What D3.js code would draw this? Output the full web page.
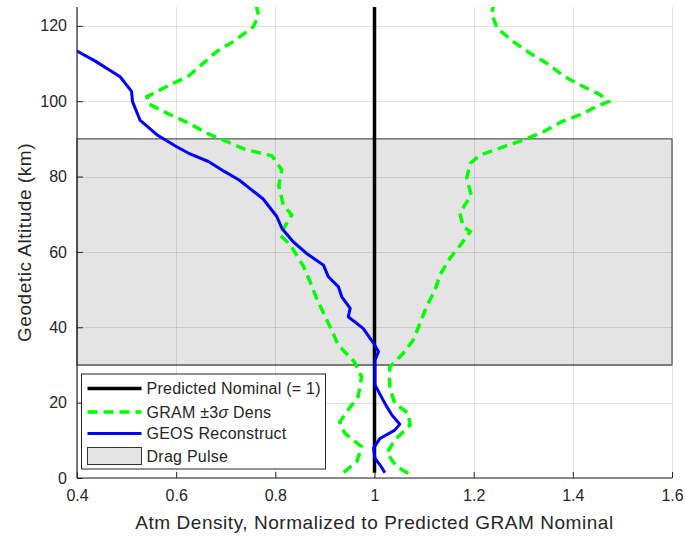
<!DOCTYPE html>
<html>
<head>
<meta charset="utf-8">
<script src="https://cdn.jsdelivr.net/npm/d3@7"></script>
<style>
  body { margin: 0; background: #fff; }
  svg text { font-family: "Liberation Sans", Arial, Helvetica, sans-serif; fill: #262626; }
</style>
</head>
<body>
<div class="chart"></div>
<script>
// values
const xTicks = [0.4, 0.6, 0.8, 1, 1.2, 1.4, 1.6];
const yTicks = [0, 20, 40, 60, 80, 100, 120];
const dragPulse = [30, 90];          // km
const nominalAlt = [1.4, 125];
const nominalRho = [1, 1];

const geosAlt = [1.4, 3.5, 5.2, 7.9, 10.5, 12.7, 14.3, 16.7, 19.8, 24.7, 29.5, 31.3, 33.5, 35.8, 39.7,
  42.8, 45.0, 48.1, 50.8, 53.4, 56.5, 59.6, 62.7, 66.3, 69.4, 74.1, 79.1, 81.3, 84.0, 86.0, 87.9,
  91.1, 95.0, 99.9, 102.6, 106.5, 110.7, 113.3];
const geosRho = [1.021, 1.011, 1.001, 0.998, 1.011, 1.041, 1.051, 1.035, 1.021, 1.001, 1.001, 1.001, 1.008, 0.998, 0.977,
  0.947, 0.951, 0.934, 0.927, 0.907, 0.897, 0.863, 0.836, 0.813, 0.803, 0.775, 0.727, 0.698, 0.665, 0.628, 0.601,
  0.561, 0.527, 0.512, 0.510, 0.487, 0.436, 0.400];

const gramLoAlt = [1.5, 4.3, 8.3, 11.9, 14.9, 18.1, 21.6, 26.9, 30.9, 35.3, 41.9, 47.7, 52.1, 56.1, 61.9,
  64.5, 69.8, 72.5, 77.5, 81.8, 85.5, 87.2, 89.3, 91.5, 94.2, 96.4, 99.3, 101.2, 103.9, 106.7, 110.1,
  113.2, 115.8, 119.8, 122.9, 125.1];
const gramLo = [0.938, 0.964, 0.974, 0.940, 0.930, 0.947, 0.967, 0.974, 0.959, 0.927, 0.904, 0.883, 0.870, 0.857, 0.830,
  0.809, 0.833, 0.816, 0.807, 0.813, 0.793, 0.739, 0.702, 0.662, 0.625, 0.588, 0.544, 0.541, 0.581, 0.625, 0.655,
  0.682, 0.715, 0.756, 0.766, 0.762];

const gramHiAlt = [1.2, 3.0, 6.6, 10.1, 14.1, 17.2, 19.8, 23.8, 27.3, 29.5, 33.1, 36.6, 41.1, 45.5, 49.9,
  53.9, 58.3, 62.3, 65.4, 66.7, 70.3, 75.1, 79.6, 83.5, 85.7, 87.9, 89.7, 91.9, 94.6, 96.4, 98.6,
  99.9, 101.7, 104.1, 106.5, 110.1, 112.7, 115.8, 119.4, 123.4, 125.1];
const gramHi = [1.068, 1.045, 1.025, 1.041, 1.072, 1.068, 1.041, 1.031, 1.030, 1.031, 1.058, 1.078, 1.092, 1.105, 1.122,
  1.132, 1.152, 1.176, 1.193, 1.179, 1.172, 1.195, 1.186, 1.193, 1.213, 1.260, 1.300, 1.341, 1.378, 1.415, 1.448,
  1.472, 1.455, 1.418, 1.384, 1.347, 1.314, 1.280, 1.247, 1.236, 1.240];

const W = 686, H = 537;
const margin = { top: 7, right: 14, bottom: 59, left: 77 };

const svg = d3.select(".chart").append("svg")
  .attr("width", W).attr("height", H);

const x = d3.scaleLinear().domain([0.4, 1.6]).range([margin.left, W - margin.right]);
const y = d3.scaleLinear().domain([0, 125]).range([H - margin.bottom, margin.top]);

svg.append("clipPath").attr("id", "plotclip")
  .append("rect")
  .attr("x", x(0.4)).attr("y", y(125))
  .attr("width", x(1.6) - x(0.4)).attr("height", y(0) - y(125));

// drag pulse band
svg.append("rect")
  .attr("x", x(0.4)).attr("y", y(dragPulse[1]))
  .attr("width", x(1.6) - x(0.4)).attr("height", y(dragPulse[0]) - y(dragPulse[1]))
  .attr("fill", "#e4e4e4")
  .attr("stroke", "#333").attr("stroke-width", 1);
svg.append("line")
  .attr("x1", x(0.4)).attr("x2", x(1.6))
  .attr("y1", y(dragPulse[0])).attr("y2", y(dragPulse[0]))
  .attr("stroke", "#7a7a7a").attr("stroke-width", 2);

// grid
const grid = svg.append("g").attr("stroke", "#262626").attr("stroke-opacity", 0.13).attr("stroke-width", 1);
xTicks.forEach(t => grid.append("line")
  .attr("x1", Math.round(x(t)) + 0.5).attr("x2", Math.round(x(t)) + 0.5)
  .attr("y1", y(125)).attr("y2", y(0)));
yTicks.forEach(t => grid.append("line")
  .attr("x1", x(0.4)).attr("x2", x(1.6))
  .attr("y1", Math.round(y(t)) + 0.5).attr("y2", Math.round(y(t)) + 0.5));

const line = d3.line().x(d => x(d[1])).y(d => y(d[0]));
const plot = svg.append("g").attr("clip-path", "url(#plotclip)");

const gramStyle = p => p.attr("fill", "none").attr("stroke", "#00ff00")
  .attr("stroke-width", 3.5).attr("stroke-dasharray", "10,6");

plot.append("path").datum(d3.zip(nominalAlt, nominalRho))
  .attr("d", line).attr("fill", "none").attr("stroke", "#000").attr("stroke-width", 3.5);
plot.append("path").datum(d3.zip(gramLoAlt, gramLo)).attr("d", line).call(gramStyle);
plot.append("path").datum(d3.zip(gramHiAlt, gramHi)).attr("d", line).call(gramStyle);
plot.append("path").datum(d3.zip(geosAlt, geosRho))
  .attr("d", line).attr("fill", "none").attr("stroke", "#0000ff").attr("stroke-width", 3)
  .attr("stroke-linejoin", "round");

// axes (ticks inside, matlab style)
const xAxis = svg.append("g")
  .attr("transform", `translate(0,${y(0)})`)
  .call(d3.axisBottom(x).tickValues(xTicks).tickFormat(d3.format("~g")).tickSizeInner(-6).tickSizeOuter(0).tickPadding(12));
const yAxis = svg.append("g")
  .attr("transform", `translate(${x(0.4)},0)`)
  .call(d3.axisLeft(y).tickValues(yTicks).tickSizeInner(-6).tickSizeOuter(0).tickPadding(10));
[xAxis, yAxis].forEach(a => {
  a.select(".domain").attr("stroke", "#262626").attr("stroke-width", 1.2);
  a.selectAll(".tick line").attr("stroke", "#262626");
  a.selectAll(".tick text").attr("font-size", 16).attr("fill", "#262626")
    .attr("font-family", "'Liberation Sans', Arial, sans-serif");
});
xAxis.select(".domain").attr("d", `M${x(0.4)},0H${x(1.6)}`);
yAxis.select(".domain").attr("d", `M0,${y(0)}V${y(125)}`);

svg.append("text")
  .attr("x", x(1)).attr("y", 529)
  .attr("text-anchor", "middle").attr("font-size", 19).attr("letter-spacing", 0.55)
  .text("Atm Density, Normalized to Predicted GRAM Nominal");
svg.append("text")
  .attr("transform", `translate(31,${(y(0) + y(125)) / 2}) rotate(-90)`)
  .attr("text-anchor", "middle").attr("font-size", 19).attr("letter-spacing", 0.55)
  .text("Geodetic Altitude (km)");

// legend
const lg = svg.append("g").attr("transform", "translate(81.5,374)");
lg.append("rect").attr("width", 244).attr("height", 95)
  .attr("fill", "#fff").attr("stroke", "#262626").attr("stroke-width", 1);
const rows = [14.5, 38, 59.5, 82.5];
lg.append("line").attr("x1", 6).attr("x2", 60).attr("y1", rows[0]).attr("y2", rows[0])
  .attr("stroke", "#000").attr("stroke-width", 3.5);
lg.append("line").attr("x1", 6).attr("x2", 60).attr("y1", rows[1]).attr("y2", rows[1])
  .call(gramStyle);
lg.append("line").attr("x1", 6).attr("x2", 60).attr("y1", rows[2]).attr("y2", rows[2])
  .attr("stroke", "#0000ff").attr("stroke-width", 3);
lg.append("rect").attr("x", 6).attr("y", rows[3] - 9).attr("width", 54).attr("height", 17)
  .attr("fill", "#e4e4e4").attr("stroke", "#333");
const lt = (i) => lg.append("text").attr("x", 65).attr("y", rows[i]).attr("dy", "0.35em")
  .attr("font-size", 16).attr("letter-spacing", 0.25);
lt(0).text("Predicted Nominal (= 1)");
const t1 = lt(1);
t1.append("tspan").text("GRAM \u00b13");
t1.append("tspan").attr("font-style", "italic").text("\u03c3");
t1.append("tspan").text(" Dens");
lt(2).text("GEOS Reconstruct");
lt(3).text("Drag Pulse");
</script>
</body>
</html>
